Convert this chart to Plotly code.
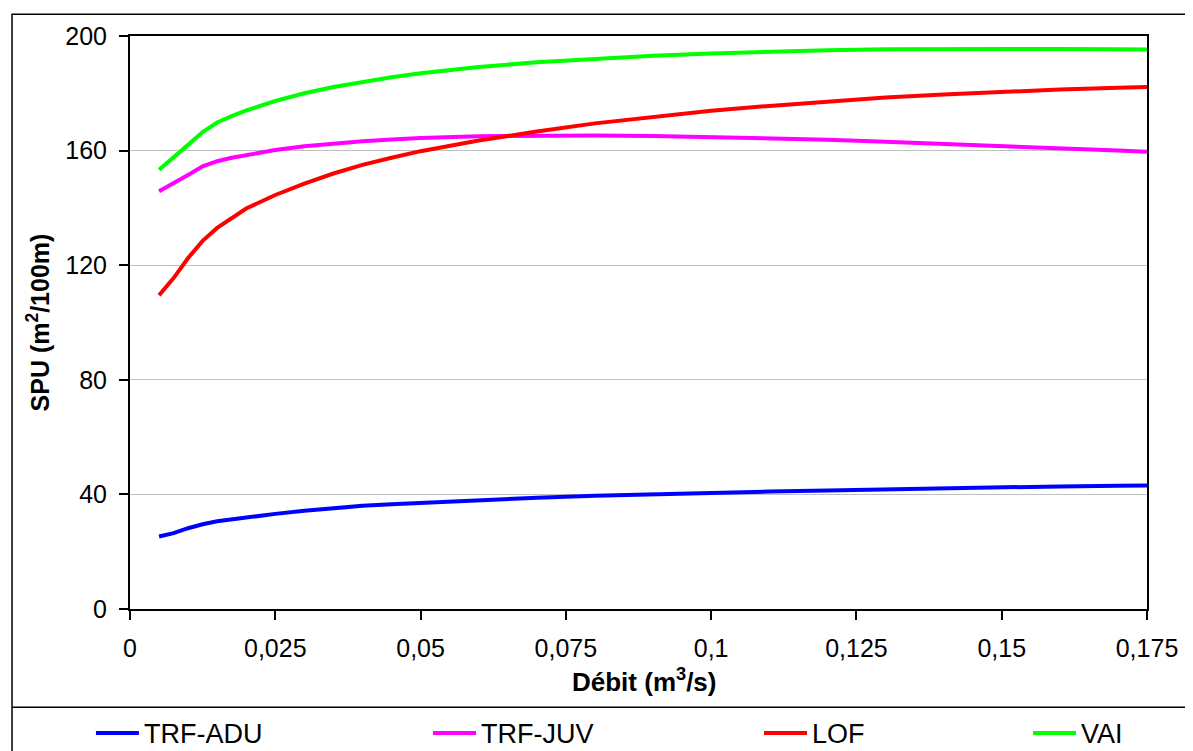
import plotly.graph_objects as go

# ---- data ----
debit = [0.005, 0.0075, 0.01, 0.0125, 0.015, 0.0175, 0.02, 0.025, 0.03, 0.035, 0.04, 0.045,
         0.05, 0.06, 0.07, 0.08, 0.09, 0.1, 0.11, 0.12, 0.13, 0.14, 0.15, 0.16, 0.17, 0.175]
trf_adu = [25.3, 26.5, 28.2, 29.6, 30.6, 31.3, 32.0, 33.2, 34.3, 35.2, 36.0, 36.6,
           37.1, 38.0, 38.8, 39.5, 40.1, 40.6, 41.0, 41.4, 41.8, 42.2, 42.5, 42.8, 43.0, 43.1]
trf_juv = [145.8, 148.5, 151.5, 154.5, 156.3, 157.5, 158.5, 160.2, 161.5, 162.5, 163.3, 163.9,
           164.4, 165.0, 165.3, 165.3, 165.1, 164.7, 164.3, 163.8, 163.1, 162.4, 161.6, 160.8, 160.0, 159.6]
lof = [109.5, 115.5, 122.5, 128.5, 133.0, 136.5, 139.8, 144.5, 148.5, 152.0, 155.0, 157.5,
       159.8, 163.5, 166.7, 169.5, 171.8, 173.9, 175.6, 177.2, 178.5, 179.6, 180.5, 181.3, 181.9, 182.2]
vai = [153.3, 157.5, 162.0, 166.5, 169.8, 172.0, 174.0, 177.3, 180.0, 182.2, 184.0, 185.6,
       187.0, 189.2, 190.8, 192.1, 193.1, 193.9, 194.6, 195.0, 195.4, 195.5, 195.5, 195.5, 195.4, 195.3]

series_names = ["TRF-ADU", "TRF-JUV", "LOF", "VAI"]
series_values = [trf_adu, trf_juv, lof, vai]
series_colors = ["#0000FF", "#FF00FF", "#FF0000", "#00FF00"]
legend_ids = ["legend", "legend2", "legend3", "legend4"]
legend_x = [-0.0384, 0.2930, 0.6185, 0.8830]

FONT = "Liberation Sans, Arial, sans-serif"

fig = go.Figure()
for name, vals, col, lid in zip(series_names, series_values, series_colors, legend_ids):
    fig.add_trace(go.Scatter(x=debit, y=vals, mode="lines", name=name,
                             line=dict(color=col, width=4), legend=lid))

legend_common = dict(orientation="h", yanchor="middle", y=-0.217, xanchor="left",
                     font=dict(family=FONT, size=27, color="black"),
                     bgcolor="rgba(0,0,0,0)", borderwidth=0, itemwidth=43)
layout_legends = {}
for lid, lx in zip(legend_ids, legend_x):
    layout_legends[lid] = dict(legend_common, x=lx)

# the page body adds an 8 px offset, so the figure is 8 px smaller on each side
fig.update_layout(
    width=1185, height=743,
    paper_bgcolor="white", plot_bgcolor="white",
    margin=dict(l=122, r=46, t=28, b=142, autoexpand=False),
    separators=",.",
    font=dict(family=FONT, size=25, color="black"),
    showlegend=True,
    **layout_legends,
    xaxis=dict(range=[0, 0.175], dtick=0.025, tick0=0, showgrid=False, zeroline=False,
               showline=True, linecolor="black", linewidth=2, mirror=True,
               ticks="outside", ticklen=9, tickwidth=1.5, tickcolor="black",
               tickfont=dict(family=FONT, size=25, color="black"), ticklabelstandoff=7),
    yaxis=dict(range=[0, 200], dtick=40, tick0=0, showgrid=True, gridcolor="#c0c0c0", gridwidth=1,
               zeroline=False, showline=True, linecolor="black", linewidth=2, mirror=True,
               ticks="outside", ticklen=9, tickwidth=1.5, tickcolor="black",
               tickfont=dict(family=FONT, size=25, color="black"), ticklabelstandoff=7),
    annotations=[
        dict(text="<b>SPU (m<sup>2</sup>/100m)</b>", xref="paper", yref="paper",
             x=-0.0905, y=0.5, textangle=-90, showarrow=False,
             xanchor="center", yanchor="middle", font=dict(family=FONT, size=25, color="black")),
        dict(text="<b>Débit (m<sup>3</sup>/s)</b>", xref="paper", yref="paper",
             x=0.505, y=-0.1244, showarrow=False,
             xanchor="center", yanchor="middle", font=dict(family=FONT, size=26, color="black")),
    ],
    shapes=[
        dict(type="rect", xref="paper", yref="paper", x0=-0.116, y0=-0.4, x1=1.2, y1=1.0379,
             line=dict(color="black", width=1.5), fillcolor="rgba(0,0,0,0)", layer="below"),
        dict(type="line", xref="paper", yref="paper", x0=-0.116, y0=-0.1716, x1=1.2, y1=-0.1716,
             line=dict(color="black", width=1.5)),
    ],
)

fig.write_html("out.html")
